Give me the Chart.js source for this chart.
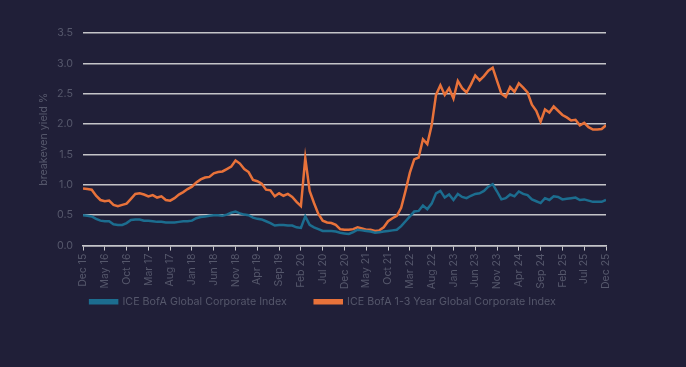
<!DOCTYPE html>
<html><head><meta charset="utf-8">
<script src="https://cdn.jsdelivr.net/npm/chart.js@4"></script>
<style>
html,body{margin:0;padding:0;background:#201f38;}
</style></head>
<body><canvas id="c" width="686" height="367"></canvas>
<script>
const tickLabels = ["Dec 15","May 16","Oct 16","Mar 17","Aug 17","Jan 18","Jun 18","Nov 18","Apr 19","Sep 19","Feb 20","Jul 20","Dec 20","May 21","Oct 21","Mar 22","Aug 22","Jan 23","Jun 23","Nov 23","Apr 24","Sep 24","Feb 25","Jul 25","Dec 25"];
const seriesNames = ["ICE BofA Global Corporate Index","ICE BofA 1-3 Year Global Corporate Index"];
const globalCorp = [0.50,0.49,0.48,0.44,0.41,0.40,0.40,0.35,0.34,0.34,0.37,0.42,0.43,0.43,0.41,0.41,0.40,0.39,0.39,0.38,0.38,0.38,0.39,0.40,0.40,0.41,0.45,0.47,0.48,0.49,0.50,0.50,0.49,0.51,0.54,0.56,0.53,0.51,0.50,0.46,0.44,0.43,0.40,0.37,0.33,0.34,0.34,0.33,0.33,0.30,0.29,0.48,0.34,0.30,0.27,0.24,0.24,0.24,0.23,0.21,0.20,0.19,0.22,0.26,0.25,0.24,0.23,0.21,0.22,0.23,0.24,0.25,0.26,0.32,0.40,0.48,0.56,0.57,0.66,0.60,0.69,0.86,0.90,0.79,0.84,0.75,0.85,0.80,0.78,0.82,0.85,0.86,0.90,0.97,1.01,0.89,0.76,0.78,0.84,0.81,0.89,0.85,0.83,0.76,0.73,0.70,0.78,0.75,0.81,0.80,0.76,0.77,0.78,0.79,0.75,0.76,0.74,0.72,0.72,0.72,0.75];
const shortCorp = [0.94,0.93,0.92,0.82,0.75,0.73,0.74,0.67,0.65,0.67,0.69,0.77,0.85,0.86,0.84,0.81,0.83,0.79,0.81,0.75,0.74,0.78,0.84,0.88,0.93,0.97,1.04,1.09,1.12,1.13,1.19,1.21,1.22,1.26,1.30,1.40,1.35,1.26,1.21,1.08,1.06,1.02,0.92,0.91,0.81,0.86,0.82,0.85,0.80,0.72,0.65,1.44,0.90,0.70,0.52,0.41,0.38,0.37,0.34,0.27,0.26,0.26,0.27,0.30,0.28,0.26,0.26,0.24,0.25,0.30,0.40,0.45,0.49,0.62,0.90,1.20,1.42,1.45,1.75,1.67,1.98,2.48,2.64,2.48,2.59,2.42,2.71,2.59,2.52,2.65,2.80,2.72,2.79,2.88,2.93,2.71,2.50,2.45,2.61,2.53,2.67,2.60,2.52,2.32,2.22,2.04,2.24,2.19,2.29,2.22,2.15,2.11,2.06,2.07,1.98,2.02,1.95,1.91,1.91,1.92,1.98];

const textCol = '#55576b';
const gridCol = '#c4c4c8';
const fontFam = 'Inter, "Liberation Sans", sans-serif';
const toPts = arr => arr.map((v,i)=>({x:i,y:v}));

// shift the legend drawing to sit just below the rotated tick labels
const legendShift = {
  id:'legendShift',
  afterLayout(chart){
    const lg = chart.legend;
    if (lg && !lg._shifted){
      const d = lg.draw;
      lg.draw = function(){ const c=this.ctx; c.save(); c.translate(20,-24); d.apply(this, arguments); c.restore(); };
      lg._shifted = true;
    }
  }
};

new Chart(document.getElementById('c'), {
  type: 'line',
  data: {
    datasets: [
      {label: seriesNames[0], data: toPts(globalCorp), borderColor:'#1c6d8f', backgroundColor:'#1c6d8f', borderWidth:2.5, pointRadius:0, tension:0},
      {label: seriesNames[1], data: toPts(shortCorp), borderColor:'#e8723a', backgroundColor:'#e8723a', borderWidth:2.5, pointRadius:0, tension:0}
    ]
  },
  plugins:[legendShift],
  options: {
    responsive:false, animation:false,
    layout:{padding:{left:0,right:80,top:33,bottom:26}},
    plugins:{
      legend:{position:'bottom', labels:{color:textCol, boxWidth:27, boxHeight:3, padding:28, font:{family:fontFam,size:10.7}}},
      tooltip:{enabled:false}
    },
    scales:{
      x:{type:'linear', min:0, max:120,
        ticks:{stepSize:5, autoSkip:false, minRotation:90, maxRotation:90, color:textCol, font:{family:fontFam,size:10.5}, padding:3,
          callback:(v)=> tickLabels[Math.round(v/5)]},
        grid:{drawOnChartArea:false, drawTicks:true, tickLength:5, color:gridCol},
        border:{display:true, color:gridCol, width:1.5}
      },
      y:{min:0, max:3.5,
        afterFit: s => { s.width = 83; },
        ticks:{stepSize:0.5, color:textCol, font:{family:fontFam,size:10.7}, padding:10, callback:v=>v.toFixed(1)},
        grid:{color:gridCol, lineWidth:1.5, drawTicks:false},
        border:{display:false},
        title:{display:true, text:'breakeven yield %', color:textCol, font:{family:fontFam,size:10.7}, padding:{top:37,bottom:0}}
      }
    }
  }
});
</script></body></html>
